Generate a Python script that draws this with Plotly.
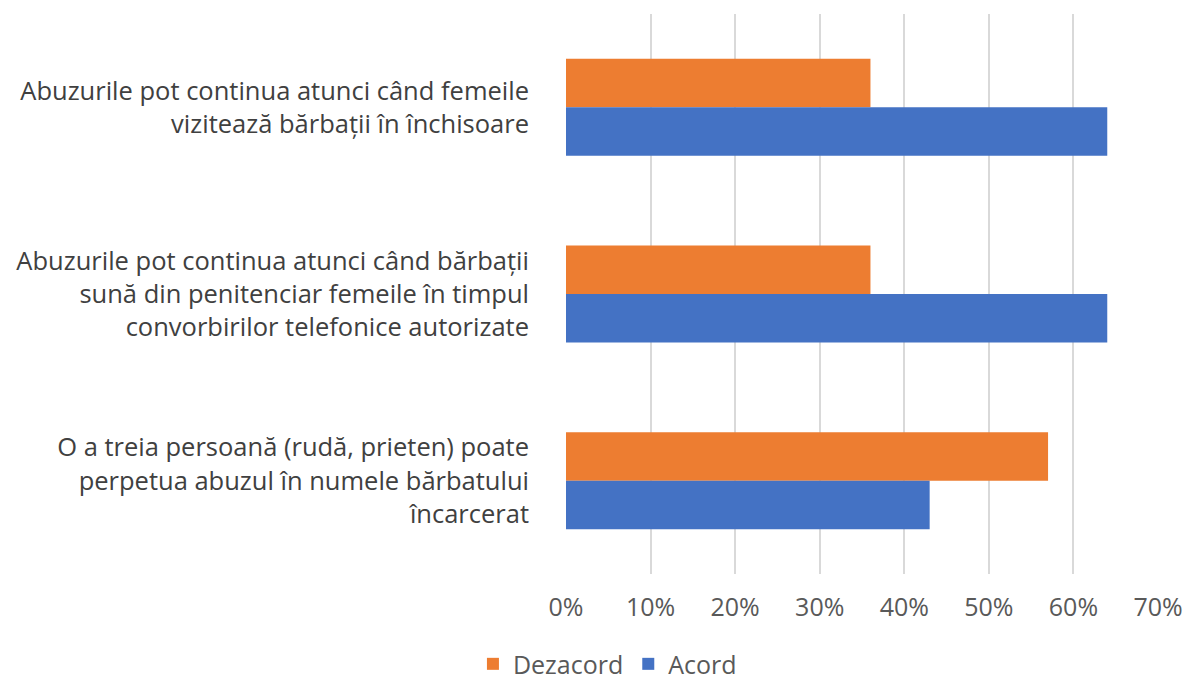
import plotly.graph_objects as go

# Data
categories = [
    "Abuzurile pot continua atunci când femeile<br>vizitează bărbații în închisoare",
    "Abuzurile pot continua atunci când bărbații<br>sună din penitenciar femeile în timpul<br>convorbirilor telefonice autorizate",
    "O a treia persoană (rudă, prieten) poate<br>perpetua abuzul în numele bărbatului<br>încarcerat",
]
dezacord = [0.36, 0.36, 0.57]
acord = [0.64, 0.64, 0.43]
x_ticks = [0, 0.1, 0.2, 0.3, 0.4, 0.5, 0.6, 0.7]
x_ticklabels = ["0%", "10%", "20%", "30%", "40%", "50%", "60%", "70%"]

ORANGE = "#ed7d31"
BLUE = "#4472c4"
GRID = "#d9d9d9"
LABEL = "#404040"
TICK = "#595959"
FONT = "Open Sans, Liberation Sans, sans-serif"

fig = go.Figure()
# y axis is reversed, so the first trace sits on top inside each group
fig.add_trace(go.Bar(
    y=categories, x=dezacord, name="Dezacord", orientation="h",
    marker=dict(color=ORANGE, line=dict(width=0)),
))
fig.add_trace(go.Bar(
    y=categories, x=acord, name="Acord", orientation="h",
    marker=dict(color=BLUE, line=dict(width=0)),
))

# page body has an 8px margin, so margins are shifted to compensate
fig.update_layout(
    width=1192, height=687,
    margin=dict(l=558, r=42, t=6, b=121),
    paper_bgcolor="white", plot_bgcolor="white",
    barmode="group", bargap=0.48, bargroupgap=0,
    font=dict(family=FONT, size=25.5, color=LABEL),
    showlegend=True,
    legend=dict(
        orientation="h", traceorder="normal",
        xref="paper", x=0.07, xanchor="center",
        yref="container", y=0.045, yanchor="middle",
        font=dict(size=25, color=TICK),
        itemwidth=30,
    ),
)
fig.update_xaxes(
    range=[0, 0.7], tickvals=x_ticks, ticktext=x_ticklabels,
    showgrid=True, gridcolor=GRID, gridwidth=1.5,
    zeroline=False, showline=False, automargin=False,
    tickfont=dict(size=25, color=TICK), ticklabelstandoff=16,
)
fig.update_yaxes(
    autorange="reversed", showgrid=False, zeroline=False, showline=False,
    automargin=False,
    tickfont=dict(size=25.5, color=LABEL), ticklabelstandoff=36,
)

fig.write_html("out.html")
